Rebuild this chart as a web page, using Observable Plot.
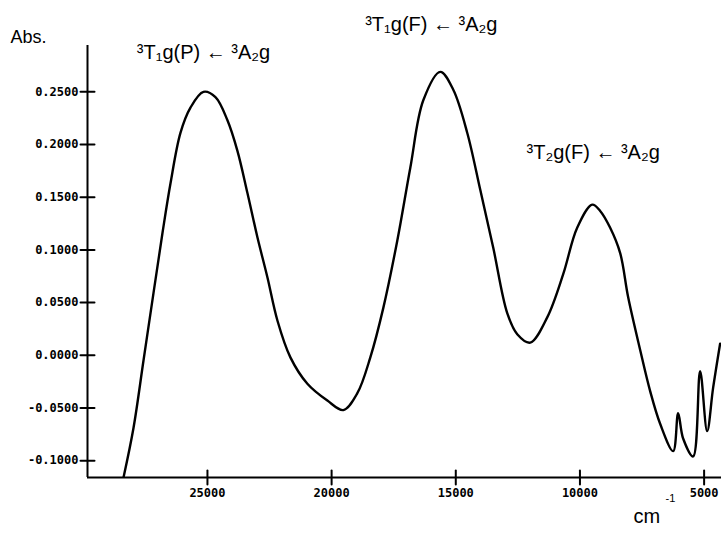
<!DOCTYPE html>
<html>
<head>
<meta charset="utf-8">
<script src="https://cdn.jsdelivr.net/npm/d3@7"></script>
<script src="https://cdn.jsdelivr.net/npm/@observablehq/plot@0.6"></script>
<style>
  html, body { margin: 0; padding: 0; background: #fff; }
  #chart svg { display: block; background: #fff; }
</style>
</head>
<body>
<div id="chart"></div>
<script>
// Wavenumber (cm^-1) and absorbance
const wavenumber = [28380, 27978, 27575, 27173, 26811, 26489, 26087, 25684, 25161, 24678,
  24195, 23793, 23390, 22988, 22586, 22183, 21660, 20976, 20171, 19527,
  18964, 18441, 17918, 17354, 16831, 16308, 15624, 15101, 14537, 14014,
  13491, 12928, 12525, 12002, 11318, 10674, 10111, 9507, 9185, 8783,
  8380, 8058, 7575, 7173, 6771, 6247, 6046, 5845, 5443, 5161,
  4879, 4638, 4356];
const absorbance = [-0.116, -0.069, -0.005, 0.059, 0.116, 0.163, 0.211, 0.235, 0.250, 0.245,
  0.223, 0.194, 0.154, 0.112, 0.074, 0.033, -0.002, -0.027, -0.043, -0.052,
  -0.036, -0.002, 0.045, 0.109, 0.178, 0.242, 0.269, 0.252, 0.211, 0.157,
  0.102, 0.040, 0.020, 0.012, 0.036, 0.077, 0.121, 0.143, 0.137, 0.121,
  0.097, 0.055, 0.005, -0.034, -0.065, -0.091, -0.055, -0.079, -0.096, -0.015,
  -0.072, -0.031, 0.011];

const yTicks = [0.25, 0.20, 0.15, 0.10, 0.05, 0.00, -0.05, -0.10];
const yTickLabels = ["0.2500", "0.2000", "0.1500", "0.1000", "0.0500", "0.0000", "-0.0500", "-0.1000"];
const xTicks = [25000, 20000, 15000, 10000, 5000];
const xTickLabels = ["25000", "20000", "15000", "10000", "5000"];

const bandLabels = ["\u00B3T\u2081g(P) \u2190 \u00B3A\u2082g", "\u00B3T\u2081g(F) \u2190 \u00B3A\u2082g", "\u00B3T\u2082g(F) \u2190 \u00B3A\u2082g"];
const bandLabelX = [25160, 15986, 9467];
const bandLabelY = [0.2877, 0.3134, 0.1927];

const xDomain = [29830, 4300];
const yDomain = [-0.116, 0.294];

const spectrum = wavenumber.map((w, i) => ({w, a: absorbance[i]}));
const bands = bandLabels.map((t, i) => ({t, x: bandLabelX[i], y: bandLabelY[i]}));

const tickFont = {fontFamily: "DejaVu Sans Mono", fontWeight: "bold", fontSize: 12};
const lineShape = {draw(context, length) { context.moveTo(0, 0); context.lineTo(0, -length); }};

const chart = Plot.plot({
  width: 721,
  height: 536,
  marginLeft: 87,
  marginRight: 0,
  marginTop: 45,
  marginBottom: 59,
  style: {background: "#fff", color: "#000", overflow: "visible"},
  x: {domain: xDomain, axis: null},
  y: {domain: yDomain, axis: null},
  marks: [
    // axis lines
    Plot.ruleX([xDomain[0]], {y1: yDomain[0], y2: yDomain[1], stroke: "#000", strokeWidth: 2}),
    Plot.ruleY([yDomain[0]], {x1: xDomain[0], x2: xDomain[1], stroke: "#000", strokeWidth: 2}),
    // crossing ticks
    Plot.vector(yTicks, {x: () => xDomain[0], y: d => d, length: 14, rotate: 90, anchor: "middle", shape: lineShape, stroke: "#000", strokeWidth: 2}),
    Plot.vector(xTicks, {x: d => d, y: () => yDomain[0], length: 14, rotate: 0, anchor: "middle", shape: lineShape, stroke: "#000", strokeWidth: 2}),
    // tick labels
    Plot.axisY(yTicks, {anchor: "left", tickSize: 0, tickPadding: 9, tickFormat: d => yTickLabels[yTicks.indexOf(d)], ...tickFont}),
    Plot.axisX(xTicks, {anchor: "bottom", tickSize: 0, tickPadding: 11, tickFormat: d => xTickLabels[xTicks.indexOf(d)], ...tickFont}),
    // spectrum
    Plot.line(spectrum, {x: "w", y: "a", stroke: "#000", strokeWidth: 2.4, curve: "catmull-rom", clip: true}),
    // band assignments
    Plot.text(bands, {x: "x", y: "y", text: "t", fontFamily: "Liberation Sans, Arial, sans-serif", fontSize: 20, fill: "#000"}),
    // axis titles
    Plot.text(["Abs."], {frameAnchor: "top-left", dx: -77, dy: -15, textAnchor: "start", fontFamily: "Liberation Sans, sans-serif", fontSize: 18, fill: "#000"}),
    Plot.text(["cm"], {frameAnchor: "bottom-right", dx: -88, dy: 45, textAnchor: "start", fontFamily: "Liberation Sans, sans-serif", fontSize: 20, fill: "#000"}),
    Plot.text(["-1"], {frameAnchor: "bottom-right", dx: -56, dy: 24, textAnchor: "start", fontFamily: "Liberation Sans, sans-serif", fontSize: 11, fill: "#000"})
  ]
});
document.getElementById("chart").appendChild(chart);
</script>
</body>
</html>
